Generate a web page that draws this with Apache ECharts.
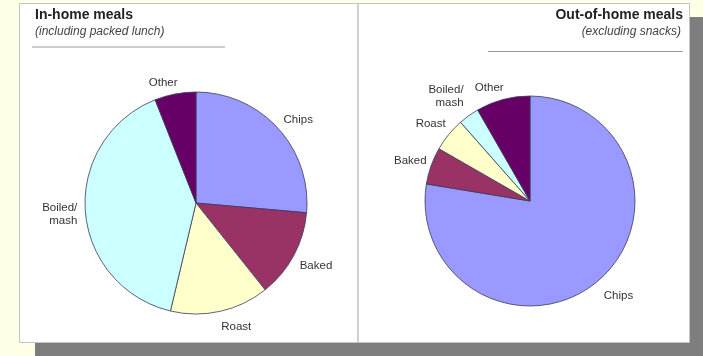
<!DOCTYPE html>
<html>
<head>
<meta charset="utf-8">
<script src="https://cdn.jsdelivr.net/npm/echarts@6/dist/echarts.min.js"></script>
<style>
html,body{margin:0;padding:0;background:#FFFFE8;}
#chart{width:703px;height:356px;}
</style>
</head>
<body>
<div id="chart"></div>
<script>
const categories = ['Chips', 'Baked', 'Roast', 'Boiled/\nmash', 'Other'];
const inHomeValues = [26.4, 12.9, 14.4, 40.3, 6.0];
const outHomeValues = [77.6, 5.7, 5.2, 3.2, 8.3];
const sliceColors = ['#9999FF', '#993366', '#FFFFCC', '#CCFFFF', '#660066'];

// small label nudges (pixels) to mimic the original label placement
const labelNudge = [
  [[-6, -2], [-7, 6], [-6, 7], [6, 3], [9, -2]],
  [[-5, 8], [9, -2], [9, -5], [5, -12], [8, -3]]
];

const FONT = '"Liberation Sans", Arial, sans-serif';

function toData(vals) {
  return categories.map((c, i) => ({ name: c, value: vals[i], itemStyle: { color: sliceColors[i] } }));
}

function pieSeries(vals, center, radius, si) {
  return {
    type: 'pie',
    center: center,
    radius: radius,
    startAngle: 90,
    clockwise: true,
    avoidLabelOverlap: false,
    silent: true,
    animation: false,
    itemStyle: { borderColor: '#3a3a5a', borderWidth: 0.8 },
    label: {
      show: true,
      position: 'outside',
      color: '#333',
      fontFamily: FONT,
      fontSize: 11.5,
      lineHeight: 13,
      formatter: '{b}'
    },
    labelLine: { show: false, length: 9, length2: 0 },
    labelLayout: function (p) {
      const n = labelNudge[si][p.dataIndex];
      return { dx: n[0], dy: n[1] };
    },
    data: toData(vals)
  };
}

const titleFont = 'bold 14px ' + FONT;
const subFont = 'italic 12px ' + FONT;

const chart = echarts.init(document.getElementById('chart'), null, { renderer: 'canvas' });
chart.setOption({
  backgroundColor: '#FFFFE8',
  animation: false,
  graphic: [
    { type: 'rect', shape: { x: 35, y: 17, width: 668, height: 339 }, style: { fill: '#7d7d7d' }, z: 0 },
    { type: 'rect', shape: { x: 19.5, y: 3.5, width: 670, height: 339 }, style: { fill: '#ffffff', stroke: '#c4c4c4', lineWidth: 1 }, z: 1 },
    { type: 'line', shape: { x1: 358, y1: 4, x2: 358, y2: 342 }, style: { stroke: '#d0d0d0', lineWidth: 2 }, z: 2 },
    { type: 'line', shape: { x1: 32, y1: 47, x2: 225, y2: 47 }, style: { stroke: '#9a9a9a', lineWidth: 1 }, z: 2 },
    { type: 'line', shape: { x1: 488, y1: 51.5, x2: 683, y2: 51.5 }, style: { stroke: '#9a9a9a', lineWidth: 1 }, z: 2 },
    { type: 'text', x: 35, y: 15.5, z: 3, style: { text: 'In-home meals', font: titleFont, fill: '#222', textAlign: 'left', textVerticalAlign: 'middle' } },
    { type: 'text', x: 35, y: 31.5, z: 3, style: { text: '(including packed lunch)', font: subFont, fill: '#444', textAlign: 'left', textVerticalAlign: 'middle' } },
    { type: 'text', x: 683, y: 15.5, z: 3, style: { text: 'Out-of-home meals', font: titleFont, fill: '#222', textAlign: 'right', textVerticalAlign: 'middle' } },
    { type: 'text', x: 681, y: 31.5, z: 3, style: { text: '(excluding snacks)', font: subFont, fill: '#444', textAlign: 'right', textVerticalAlign: 'middle' } }
  ],
  series: [
    pieSeries(inHomeValues, [196, 203], 111, 0),
    pieSeries(outHomeValues, [530, 201], 105, 1)
  ]
});
</script>
</body>
</html>
